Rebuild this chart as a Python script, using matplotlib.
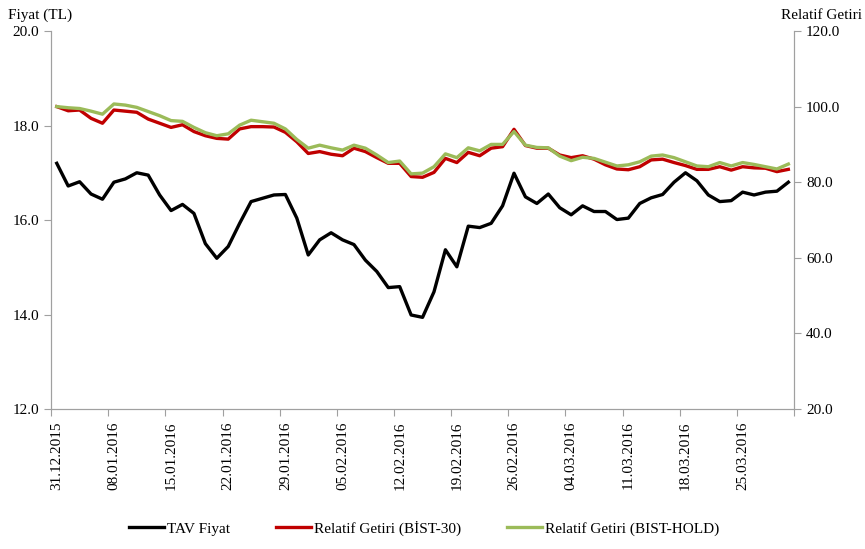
import matplotlib
matplotlib.use('Agg')
from matplotlib import pyplot as plt
from matplotlib.ticker import FormatStrFormatter
import numpy as np

plt.rcParams['font.family'] = ['Liberation Serif', 'DejaVu Serif']

# TAV fiyat (TL), 31.12.2015 - 31.03.2016, is gunleri
tav_fiyat = [17.20, 16.72, 16.81, 16.55, 16.44, 16.80, 16.87, 17.00, 16.95, 16.53,
             16.20, 16.33, 16.14, 15.50, 15.19, 15.44, 15.93, 16.39, 16.46, 16.53,
             16.54, 16.04, 15.26, 15.58, 15.73, 15.58, 15.48, 15.15, 14.91, 14.57,
             14.59, 13.99, 13.94, 14.48, 15.37, 15.01, 15.87, 15.84, 15.93, 16.30,
             16.99, 16.49, 16.35, 16.55, 16.26, 16.11, 16.30, 16.18, 16.18, 16.01,
             16.04, 16.35, 16.47, 16.54, 16.80, 17.00, 16.83, 16.53, 16.39, 16.41,
             16.59, 16.53, 16.59, 16.61, 16.80]

rel_bist30 = [100.0, 98.9, 99.1, 96.9, 95.6, 99.1, 98.8, 98.5, 96.7, 95.6,
              94.5, 95.2, 93.4, 92.3, 91.6, 91.4, 94.1, 94.7, 94.7, 94.6,
              93.2, 90.7, 87.6, 88.1, 87.4, 87.0, 89.0, 88.1, 86.5, 85.0,
              85.0, 81.5, 81.3, 82.6, 86.3, 85.2, 87.9, 87.0, 89.0, 89.4,
              94.0, 89.7, 89.0, 89.0, 87.2, 86.5, 87.0, 86.1, 84.6, 83.5,
              83.3, 84.1, 85.9, 86.1, 85.2, 84.4, 83.4, 83.4, 84.1, 83.2,
              84.1, 83.8, 83.7, 82.8, 83.4]

rel_bisthold = [100.0, 99.7, 99.5, 98.8, 98.0, 100.7, 100.4, 99.8, 98.7, 97.6,
                96.3, 96.1, 94.5, 93.1, 92.3, 92.8, 95.1, 96.4, 96.0, 95.6,
                94.1, 91.3, 89.0, 89.8, 89.1, 88.5, 89.8, 89.0, 87.2, 85.2,
                85.6, 82.2, 82.4, 84.1, 87.5, 86.5, 89.1, 88.3, 90.0, 90.0,
                93.4, 89.8, 89.2, 89.1, 86.9, 85.7, 86.6, 86.3, 85.3, 84.3,
                84.6, 85.4, 86.9, 87.2, 86.5, 85.4, 84.3, 84.1, 85.2, 84.3,
                85.2, 84.7, 84.1, 83.5, 84.8]

tarih_etiketleri = ['31.12.2015', '08.01.2016', '15.01.2016', '22.01.2016', '29.01.2016',
                    '05.02.2016', '12.02.2016', '19.02.2016', '26.02.2016', '04.03.2016',
                    '11.03.2016', '18.03.2016', '25.03.2016']

x = np.arange(len(tav_fiyat))
gri = '#A0A0A0'

fig = plt.figure(figsize=(8.65, 5.49), dpi=100)
ax = fig.add_axes([0.059, 0.255, 0.859, 0.6885])
ax2 = ax.twinx()

l1, = ax.plot(x, tav_fiyat, color='black', lw=2.4, label='TAV Fiyat')
l2, = ax2.plot(x, rel_bist30, color='#C00000', lw=2.4, label='Relatif Getiri (BİST-30)')
l3, = ax2.plot(x, rel_bisthold, color='#9BBB59', lw=2.4, label='Relatif Getiri (BIST-HOLD)')

ax.set_xlim(-0.5, len(x) - 0.5)
ax.set_ylim(12, 20)
ax2.set_ylim(20, 120)
ax.set_yticks(np.arange(12, 20.1, 2))
ax2.set_yticks(np.arange(20, 120.1, 20))
ax.yaxis.set_major_formatter(FormatStrFormatter('%.1f'))
ax2.yaxis.set_major_formatter(FormatStrFormatter('%.1f'))

# tick cizgileri haftalik sinirlarda, etiketler gun uzerinde
ax.set_xticks(np.arange(-0.5, len(x), 5))
ax.set_xticklabels([])
ax.set_xticks(np.arange(0, len(x), 5), minor=True)
ax.set_xticklabels(tarih_etiketleri, minor=True, rotation=90, fontsize=11)
ax.tick_params(axis='x', which='minor', length=0, pad=9)
ax.tick_params(axis='x', which='major', length=5, color=gri, direction='out')

for a in (ax, ax2):
    for s in a.spines.values():
        s.set_color(gri)
    a.spines['top'].set_visible(False)
    a.tick_params(axis='y', length=5, color=gri, labelsize=11, direction='out')
ax2.spines['right'].set_color(gri)

fig.text(0.009, 0.972, 'Fiyat (TL)', fontsize=11, ha='left', va='center')
fig.text(0.997, 0.972, 'Relatif Getiri', fontsize=11, ha='right', va='center')

fig.legend(handles=[l1, l2, l3], loc='center', bbox_to_anchor=(0.49, 0.038), ncol=3,
           frameon=False, fontsize=11, handlelength=2.3, handletextpad=0.2,
           columnspacing=3.0)

fig.savefig('out.png', dpi=100)
